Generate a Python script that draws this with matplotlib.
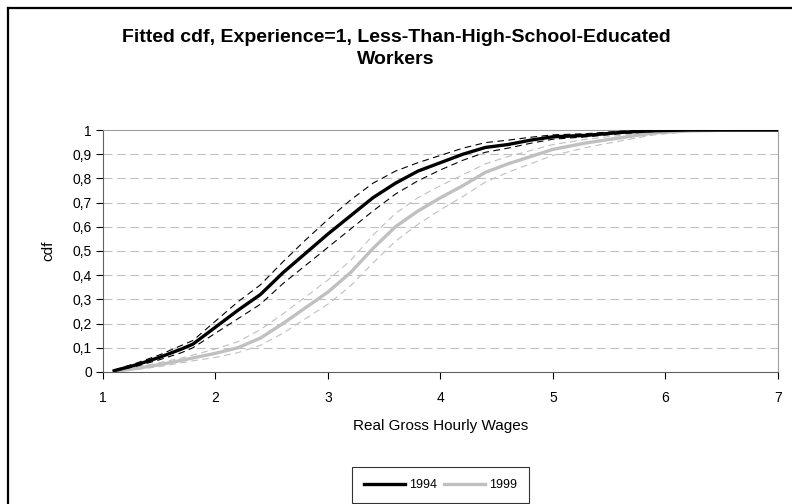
import matplotlib
matplotlib.use('Agg')
import matplotlib.pyplot as plt
from matplotlib.lines import Line2D

plt.rcParams['font.family'] = ['Liberation Sans', 'DejaVu Sans']

wage = [1.1, 1.3, 1.5, 1.7, 1.8, 2.0, 2.2, 2.4, 2.6, 2.8, 3.0, 3.2, 3.4, 3.6,
        3.8, 4.0, 4.2, 4.4, 4.6, 4.8, 5.0, 5.3, 5.6, 5.9, 6.2, 6.6, 7.0]

cdf_1994 = [0.005, 0.03, 0.06, 0.095, 0.115, 0.185, 0.255, 0.32, 0.41, 0.49, 0.57,
            0.645, 0.72, 0.78, 0.83, 0.865, 0.9, 0.928, 0.94, 0.958, 0.972, 0.978,
            0.99, 0.997, 1.0, 1.0, 1.0]
upper_1994 = [0.008, 0.037, 0.07, 0.11, 0.13, 0.21, 0.29, 0.36, 0.455, 0.545, 0.63,
              0.71, 0.78, 0.83, 0.865, 0.895, 0.925, 0.948, 0.958, 0.97, 0.98, 0.985,
              0.995, 1.0, 1.0, 1.0, 1.0]
lower_1994 = [0.003, 0.024, 0.05, 0.08, 0.1, 0.16, 0.22, 0.28, 0.365, 0.44, 0.515,
              0.59, 0.665, 0.735, 0.79, 0.835, 0.875, 0.908, 0.925, 0.945, 0.962, 0.972,
              0.985, 0.994, 1.0, 1.0, 1.0]

cdf_1999 = [0.002, 0.015, 0.03, 0.048, 0.058, 0.077, 0.1, 0.14, 0.2, 0.265, 0.33,
            0.41, 0.51, 0.6, 0.665, 0.72, 0.77, 0.825, 0.86, 0.89, 0.92, 0.947,
            0.968, 0.988, 0.996, 1.0, 1.0]
upper_1999 = [0.004, 0.02, 0.038, 0.058, 0.07, 0.095, 0.125, 0.175, 0.24, 0.31, 0.38,
              0.46, 0.565, 0.655, 0.72, 0.77, 0.815, 0.86, 0.89, 0.915, 0.94, 0.962,
              0.978, 0.993, 0.998, 1.0, 1.0]
lower_1999 = [0.001, 0.01, 0.022, 0.038, 0.046, 0.06, 0.08, 0.11, 0.16, 0.22, 0.28,
              0.355, 0.45, 0.54, 0.61, 0.67, 0.725, 0.785, 0.825, 0.86, 0.895, 0.928,
              0.955, 0.98, 0.993, 1.0, 1.0]

yticks = [i / 10 for i in range(11)]
ylabels = ['0'] + ['0,%d' % i for i in range(1, 10)] + ['1']
xticks = [1, 2, 3, 4, 5, 6, 7]

gray = '#c0c0c0'

fig = plt.figure(figsize=(7.92, 5.04), dpi=100)
ax = fig.add_axes([0.130, 0.262, 0.852, 0.480])

for v in yticks[1:-1]:
    ax.axhline(v, color=gray, lw=0.8, ls=(0, (8, 4)), zorder=1)

ax.plot(wage, upper_1999, color=gray, lw=0.8, ls=(0, (6, 4)), zorder=2)
ax.plot(wage, lower_1999, color=gray, lw=0.8, ls=(0, (6, 4)), zorder=2)
ax.plot(wage, cdf_1999, color=gray, lw=2.4, zorder=3)
ax.plot(wage, upper_1994, color='black', lw=0.8, ls=(0, (6, 4)), zorder=4)
ax.plot(wage, lower_1994, color='black', lw=0.8, ls=(0, (6, 4)), zorder=4)
ax.plot(wage, cdf_1994, color='black', lw=2.4, zorder=5)

ax.set_xlim(1, 7)
ax.set_ylim(0, 1)
ax.set_xticks(xticks)
ax.set_xticklabels([str(x) for x in xticks], fontsize=10)
ax.set_yticks(yticks)
ax.set_yticklabels(ylabels, fontsize=10)
ax.tick_params(axis='both', direction='out', length=5, width=0.8, pad=3)
ax.tick_params(axis='x', pad=9)

for s in ['top', 'right']:
    ax.spines[s].set_color('#a0a0a0')
for s in ['left', 'bottom']:
    ax.spines[s].set_color('#606060')

ax.set_xlabel('Real Gross Hourly Wages', fontsize=11, labelpad=10)
ax.set_ylabel('cdf', fontsize=11, labelpad=12)

fig.text(0.5, 0.943, 'Fitted cdf, Experience=1, Less-Than-High-School-Educated\nWorkers',
         ha='center', va='top', fontsize=14, fontweight='bold', linespacing=1.4)

handles = [Line2D([], [], color='black', lw=2.4), Line2D([], [], color=gray, lw=2.4)]
leg = fig.legend(handles, ['1994', '1999'], loc='center', bbox_to_anchor=(0.556, 0.037),
                 ncol=2, fontsize=9, frameon=True, fancybox=False, handlelength=3.3,
                 handletextpad=0.3, columnspacing=0.6, borderpad=0.95)
leg.get_frame().set_edgecolor('black')
leg.get_frame().set_linewidth(0.8)

fig.add_artist(Line2D([8 / 792, 8 / 792], [0, 1 - 8 / 504], color='black', lw=1.6))
fig.add_artist(Line2D([8 / 792, 1], [1 - 8 / 504, 1 - 8 / 504], color='black', lw=1.6))

fig.savefig('out.png', dpi=100)
